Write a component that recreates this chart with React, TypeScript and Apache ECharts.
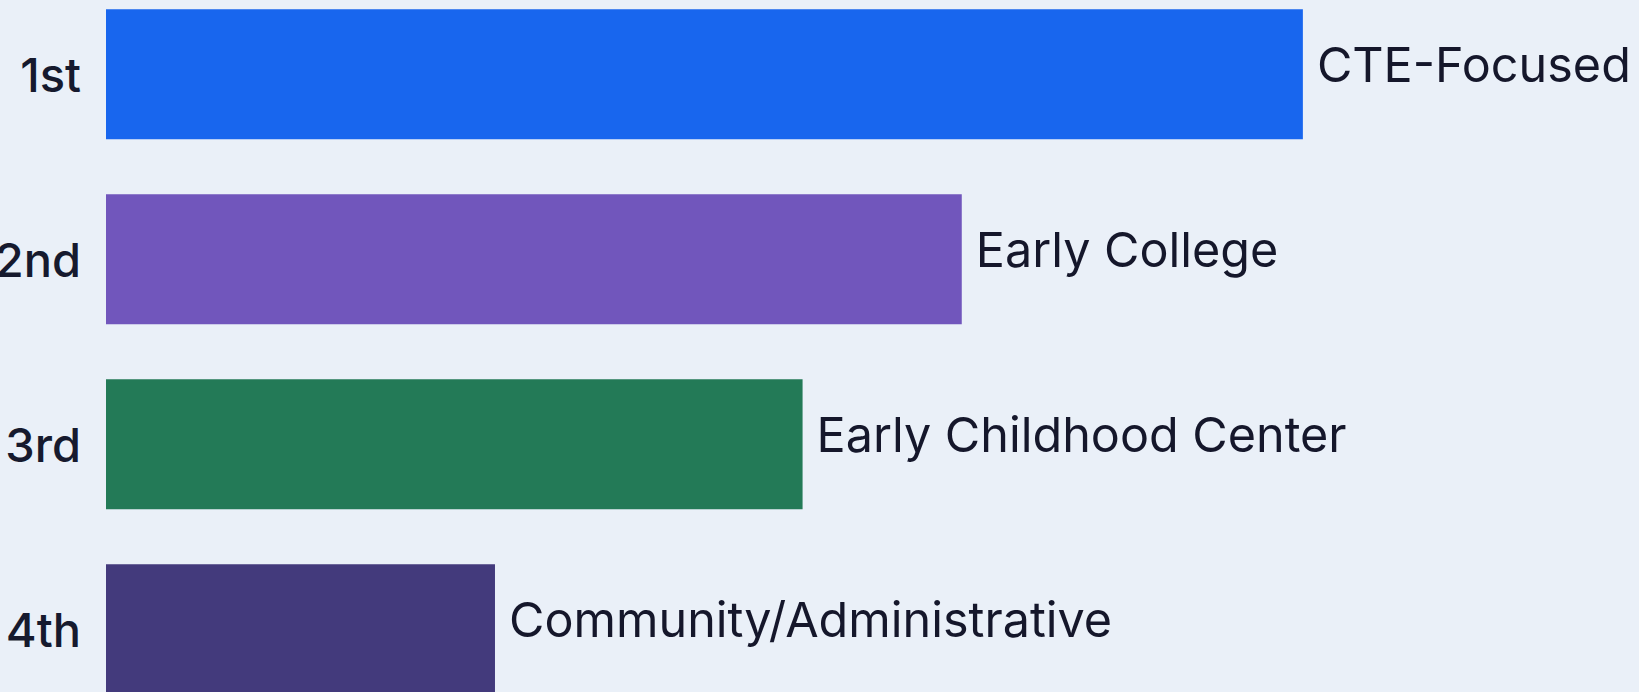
import React, { useEffect, useRef } from "react";
import * as echarts from "echarts";

const ranks = ["1st", "2nd", "3rd", "4th"];
const schoolTypes = [
  "CTE-Focused",
  "Early College",
  "Early Childhood Center",
  "Community/Administrative",
];
const values = [100, 71.5, 58.2, 32.5];
const barColors = ["#1866EE", "#7156BC", "#237A57", "#433A7C"];

export default function App() {
  const ref = useRef<HTMLDivElement>(null);
  useEffect(() => {
    if (!ref.current) return;
    const chart = echarts.init(ref.current, null, { renderer: "svg" });
    chart.setOption({
      animation: false,
      backgroundColor: "#EAF0F8",
      grid: {
        left: 106,
        width: 1532,
        top: -18.3,
        height: 740,
        containLabel: false,
        outerBoundsMode: "none",
      },
      xAxis: { type: "value", min: 0, max: 128, show: false },
      yAxis: {
        type: "category",
        inverse: true,
        data: ranks,
        axisLine: { show: false },
        axisTick: { show: false },
        splitLine: { show: false },
        axisLabel: {
          margin: 25,
          fontSize: 47,
          fontWeight: 500,
          fontFamily: "Inter",
          color: "#161A2E",
        },
      },
      series: [
        {
          type: "bar",
          barWidth: 130,
          data: values.map((v, i) => ({ value: v, itemStyle: { color: barColors[i] } })),
          label: {
            show: true,
            position: "right",
            distance: 14,
            offset: [0, -10],
            formatter: (p: any) => schoolTypes[p.dataIndex],
            fontSize: 48.5,
            fontFamily: "Inter",
            fontWeight: 400,
            color: "#15172B",
          },
        },
      ],
    });
    return () => chart.dispose();
  }, []);
  return (
    <div
      ref={ref}
      style={{ position: "fixed", left: 0, top: 0, width: 1639, height: 692 }}
    />
  );
}
